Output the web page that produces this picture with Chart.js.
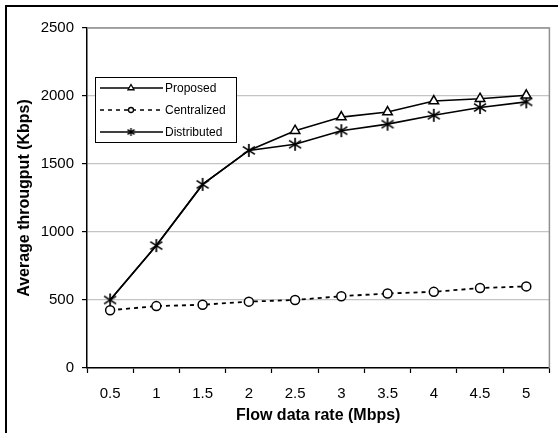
<!DOCTYPE html>
<html>
<head>
<meta charset="utf-8">
<script src="https://cdn.jsdelivr.net/npm/chart.js@4"></script>
<style>
  html, body { margin: 0; padding: 0; background: #fff; overflow: hidden; }
  #frame { position: absolute; left: 5px; top: 5px; width: 570px; height: 450px; border: 2px solid #000; }
  #wrap { position: absolute; left: 0; top: 0; width: 558px; height: 433px; }
</style>
</head>
<body>
<div id="frame"></div>
<div id="wrap"><canvas id="chart" width="558" height="433"></canvas></div>
<script>
// --- DATA ---
const rates = ['0.5', '1', '1.5', '2', '2.5', '3', '3.5', '4', '4.5', '5'];
const proposed = [500, 900, 1350, 1600, 1745, 1845, 1882, 1963, 1980, 2005];
const centralized = [425, 455, 465, 488, 500, 528, 548, 560, 588, 600];
const distributed = [500, 900, 1350, 1600, 1645, 1745, 1793, 1858, 1915, 1957];
const yTicks = [0, 500, 1000, 1500, 2000, 2500];

// asterisk marker: vertical bar plus two diagonals
const makeStar = (w, h, lw) => {
    const c = document.createElement('canvas');
    c.width = w; c.height = h;
    const g = c.getContext('2d');
    const mx = w / 2, my = h / 2, rx = w / 2 - 1, ry = h / 2 - 1;
    g.strokeStyle = '#000';
    g.lineWidth = lw;
    g.beginPath();
    g.moveTo(mx, my - ry); g.lineTo(mx, my + ry);
    g.moveTo(mx - rx, my - ry * 0.6); g.lineTo(mx + rx, my + ry * 0.6);
    g.moveTo(mx + rx, my - ry * 0.6); g.lineTo(mx - rx, my + ry * 0.6);
    g.stroke();
    return c;
};
const starBig = makeStar(14, 15, 1.7);
const starSmall = makeStar(9, 10, 1.4);

const tickFont = { family: 'Liberation Sans, Arial, sans-serif', size: 15 };
const titleFont = { family: 'Liberation Sans, Arial, sans-serif', size: 16, weight: 'bold' };

// gray frame on top and right of the plot
const plotFrame = {
    id: 'plotFrame',
    beforeDatasetsDraw(chart) {
        const { ctx, chartArea: a } = chart;
        ctx.save();
        ctx.strokeStyle = '#909090';
        ctx.lineWidth = 1.5;
        ctx.beginPath();
        ctx.moveTo(a.left, a.top);
        ctx.lineTo(a.right, a.top);
        ctx.lineTo(a.right, a.bottom);
        ctx.stroke();
        ctx.restore();
    }
};

// boxed legend inside the plot, line sample with marker in the middle
const boxLegend = {
    id: 'boxLegend',
    afterDraw(chart) {
        const { ctx } = chart;
        const x0 = 95, y0 = 77, w = 141, h = 65;
        ctx.save();
        ctx.fillStyle = '#fff';
        ctx.fillRect(x0, y0, w, h);
        ctx.strokeStyle = '#000';
        ctx.lineWidth = 1;
        ctx.strokeRect(x0 + 0.5, y0 + 0.5, w, h);
        const markers = [
            { pointStyle: 'triangle', radius: 3.5 },
            { pointStyle: 'circle', radius: 2.5 },
            { pointStyle: starSmall, radius: 4 }
        ];
        chart.data.datasets.forEach((ds, i) => {
            const y = 88 + i * 22;
            ctx.strokeStyle = '#000';
            ctx.lineWidth = 1.5;
            ctx.setLineDash(ds.borderDash || []);
            ctx.beginPath();
            ctx.moveTo(100, y);
            ctx.lineTo(163, y);
            ctx.stroke();
            ctx.setLineDash([]);
            ctx.fillStyle = '#fff';
            ctx.lineWidth = 1.3;
            Chart.helpers.drawPoint(ctx, { ...markers[i], rotation: 0, borderWidth: 1.3 }, 131, y);
            ctx.fillStyle = '#000';
            ctx.font = '12px Liberation Sans, Arial, sans-serif';
            ctx.textBaseline = 'middle';
            ctx.fillText(ds.label, 165, y + 0.5);
        });
        ctx.restore();
    }
};

new Chart(document.getElementById('chart'), {
    type: 'line',
    data: {
        labels: rates,
        datasets: [
            {
                label: 'Proposed', data: proposed,
                borderColor: '#000', borderWidth: 1.6,
                pointStyle: 'triangle',
                // where it coincides with Distributed only the star is visible
                pointRadius: (c) => proposed[c.dataIndex] === distributed[c.dataIndex] ? 0 : 5.5,
                pointBackgroundColor: '#fff', pointBorderColor: '#000', pointBorderWidth: 1.5
            },
            {
                label: 'Centralized', data: centralized,
                borderColor: '#000', borderWidth: 1.8, borderDash: [4, 4],
                pointStyle: 'circle', pointRadius: 4.5,
                pointBackgroundColor: '#fff', pointBorderColor: '#000', pointBorderWidth: 1.5
            },
            {
                label: 'Distributed', data: distributed,
                borderColor: '#000', borderWidth: 1.6,
                pointStyle: starBig, pointRadius: 7
            }
        ]
    },
    options: {
        responsive: false,
        animation: false,
        events: [],
        layout: { padding: { left: 0, top: 28, right: 3, bottom: 0 } },
        plugins: { legend: { display: false }, tooltip: { enabled: false } },
        scales: {
            x: {
                type: 'category',
                offset: true,
                afterFit: (s) => { s.height = 65; },
                grid: { offset: true, drawOnChartArea: false, tickLength: 5, tickColor: '#000', tickWidth: 1.2 },
                border: { color: '#000', width: 1.5 },
                ticks: { color: '#000', font: tickFont, padding: 12, maxRotation: 0 },
                title: { display: true, text: 'Flow data rate (Mbps)', color: '#000', font: titleFont, padding: { top: 0, bottom: 8 } }
            },
            y: {
                min: yTicks[0],
                max: yTicks[yTicks.length - 1],
                afterFit: (s) => { s.width = 87; },
                afterBuildTicks: (s) => { s.ticks = yTicks.map(v => ({ value: v })); },
                grid: { color: '#c4c4c4', lineWidth: 1.2, tickLength: 5, tickColor: '#000', tickWidth: 1.2 },
                border: { color: '#000', width: 1.5 },
                ticks: { color: '#000', font: tickFont, padding: 8, callback: (v) => String(v) },
                title: { display: true, text: 'Average througput (Kbps)', color: '#000', font: titleFont, padding: { top: 15, bottom: 0 } }
            }
        }
    },
    plugins: [plotFrame, boxLegend]
});
</script>
</body>
</html>
